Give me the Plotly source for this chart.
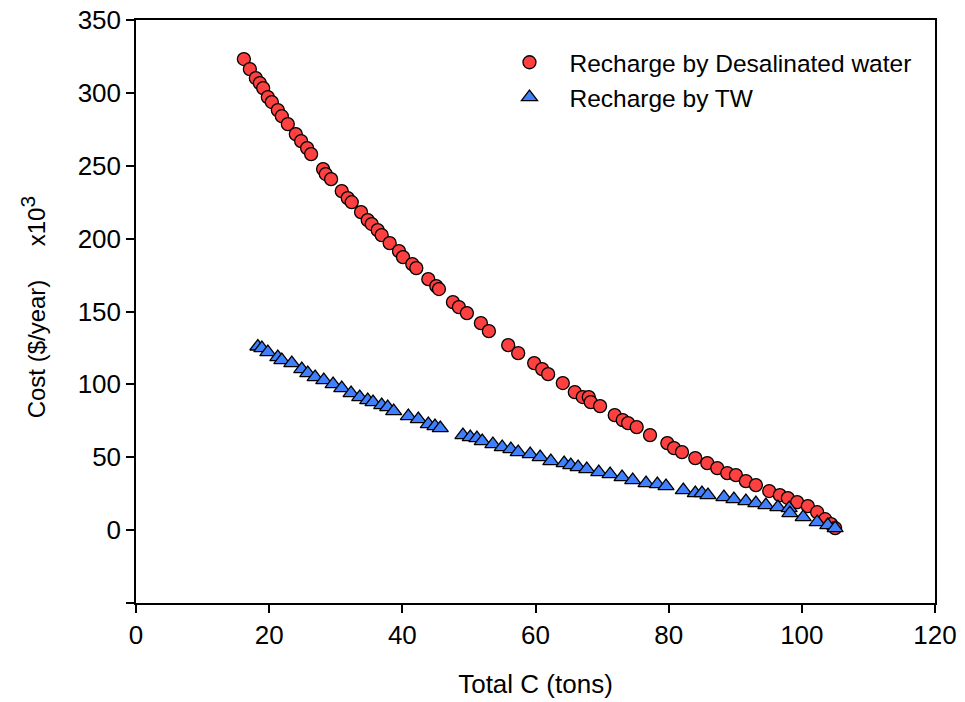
import plotly.graph_objects as go

# Recharge by Desalinated water (x = Total C tons, y = cost x10^3 $/year)
desal_x = [16.2, 17.1, 18.0, 18.6, 19.1, 19.8, 20.4, 21.3, 21.9, 22.8, 24.0, 24.8, 25.7, 26.3,
           28.1, 28.5, 29.3, 30.9, 31.8, 32.4, 33.8, 34.8, 35.4, 36.3, 36.9, 38.1, 39.5, 40.1,
           41.5, 42.1, 43.9, 45.1, 45.5, 47.6, 48.5, 49.7, 51.8, 53.0, 55.9, 57.4, 59.8, 61.0,
           61.9, 64.1, 65.9, 67.1, 68.0, 68.3, 69.7, 71.9, 73.1, 73.9, 75.2, 77.2, 79.8, 80.8,
           82.0, 84.0, 85.8, 87.3, 88.8, 90.1, 91.6, 93.1, 95.1, 96.7, 97.9, 99.3, 100.9, 102.3,
           103.5, 104.4, 105.0]
desal_y = [323.2, 316.3, 310.1, 306.7, 303.3, 297.1, 293.7, 288.2, 284.0, 278.6, 271.7, 266.9, 262.1, 258.0,
           247.7, 244.3, 240.8, 232.6, 227.8, 225.0, 218.2, 212.7, 210.0, 205.8, 202.4, 196.9, 191.4, 187.3,
           182.5, 179.8, 172.2, 167.4, 165.4, 156.4, 153.0, 148.9, 142.0, 136.5, 126.9, 121.4, 114.6, 110.5,
           107.0, 100.9, 94.7, 91.3, 91.3, 87.8, 85.1, 78.9, 75.5, 73.4, 70.7, 65.2, 59.7, 56.3,
           53.5, 49.4, 46.0, 42.5, 39.1, 37.7, 33.6, 30.9, 26.8, 24.0, 22.0, 19.2, 16.5, 12.3,
           7.5, 4.1, 1.4]

# Recharge by TW
tw_x = [18.3, 18.9, 19.8, 21.3, 21.9, 23.4, 24.9, 25.8, 26.9, 28.2, 29.6, 30.9, 32.3, 33.6,
        34.8, 35.6, 36.9, 37.8, 38.7, 40.9, 42.4, 43.9, 44.9, 45.7,
        49.1, 50.2, 51.2, 52.0, 53.6, 55.0, 56.3, 57.4, 59.2, 60.7, 62.3, 64.3, 65.3, 66.4,
        67.7, 69.5, 71.2, 73.0, 74.6, 76.6, 78.3, 79.6, 82.2, 84.0, 85.0, 85.9, 88.3, 89.8,
        91.6, 93.1, 94.6, 96.4, 98.1, 98.2, 100.2, 102.3, 103.9, 105.0]
tw_y = [126.0, 124.9, 122.1, 118.7, 116.6, 114.6, 110.5, 107.7, 105.0, 102.9, 100.2, 97.4, 94.0, 91.3,
        89.2, 87.8, 85.8, 84.4, 81.6, 78.2, 76.2, 72.7, 71.4, 70.0,
        65.2, 63.8, 63.1, 61.1, 59.0, 56.9, 55.6, 53.5, 52.1, 50.1, 47.3, 46.0, 44.6, 43.2,
        41.9, 39.8, 38.4, 36.4, 34.3, 32.2, 31.6, 30.2, 27.4, 25.4, 25.4, 24.0, 22.6, 21.3,
        19.9, 18.5, 17.2, 15.8, 15.1, 11.7, 8.9, 5.5, 3.4, 1.4]

x_ticks = [0, 20, 40, 60, 80, 100, 120]
y_ticks = [-50, 0, 50, 100, 150, 200, 250, 300, 350]
y_ticktext = ["", "0", "50", "100", "150", "200", "250", "300", "350"]

FONT = "Arial, Liberation Sans, sans-serif"

fig = go.Figure()
fig.add_trace(go.Scatter(
    x=desal_x, y=desal_y, mode="markers", name="Recharge by Desalinated water",
    marker=dict(symbol="circle", size=13, color="#FF4040", line=dict(color="black", width=1.3)),
))
fig.add_trace(go.Scatter(
    x=tw_x, y=tw_y, mode="markers", name="Recharge by TW",
    marker=dict(symbol="triangle-up", size=14, color="#4080FF", line=dict(color="black", width=1.3)),
))

axis_common = dict(
    showline=True, linecolor="black", linewidth=1.5, mirror=True,
    ticks="outside", ticklen=8, tickwidth=1.5, tickcolor="black",
    showgrid=False, zeroline=False, ticklabeloverflow="allow", automargin=False,
    tickfont=dict(family=FONT, size=26, color="black"),
)

fig.update_xaxes(range=[0, 120], tickvals=x_ticks, **axis_common,
                 title=dict(text="Total C (tons)", font=dict(family=FONT, size=26, color="black"), standoff=26))
fig.update_yaxes(range=[-50, 350], tickvals=y_ticks, ticktext=y_ticktext, **axis_common)

fig.add_annotation(
    text='Cost ($/year)     x10<sup><span style="font-size:21px">3</span></sup>', textangle=-90,
    xref="paper", yref="paper", x=-0.129, y=0.507, xanchor="center", yanchor="middle",
    showarrow=False, font=dict(family=FONT, size=24, color="black"),
)

fig.update_layout(
    width=957, height=694,
    margin=dict(l=128, r=30, t=12, b=99, autoexpand=False),
    paper_bgcolor="white", plot_bgcolor="white",
    font=dict(family=FONT, size=24, color="black"),
    legend=dict(x=0.4424, y=0.966, xanchor="left", yanchor="top",
                bgcolor="rgba(0,0,0,0)", font=dict(family=FONT, size=24.5, color="black"),
                itemwidth=70, tracegroupgap=0),
)

fig.write_html("out.html")
